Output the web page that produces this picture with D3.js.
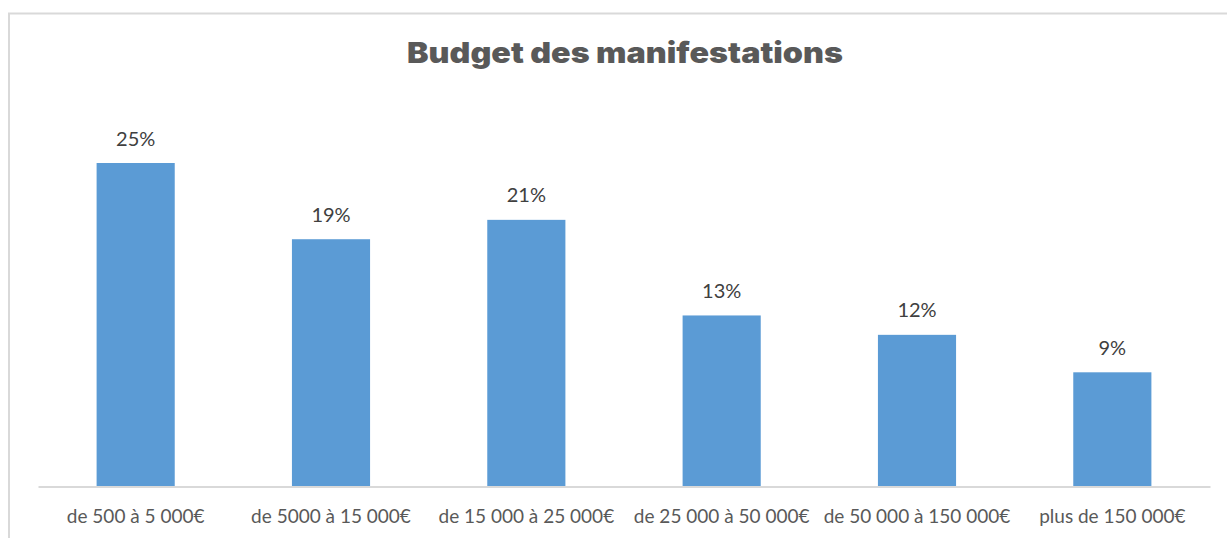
<!DOCTYPE html>
<html>
<head>
<meta charset="utf-8">
<script src="https://cdn.jsdelivr.net/npm/d3@7"></script>
<style>
  html, body { margin: 0; padding: 0; background: #fff; }
  svg { display: block; }
</style>
</head>
<body>
<svg id="chart" width="1227" height="538"></svg>
<script>
// data
var categories = [
  'de 500 à 5 000€',
  'de 5000 à 15 000€',
  'de 15 000 à 25 000€',
  'de 25 000 à 50 000€',
  'de 50 000 à 150 000€',
  'plus de 150 000€'
]
var shares = [25.0, 19.1, 20.6, 13.2, 11.7, 8.8]
var title = 'Budget des manifestations'

var width = 1227,
  height = 538,
  margin = { left: 38, right: 17, top: 163, bottom: 52 }

var svg = d3.select('#chart')

// chart frame
svg.append('rect')
  .attr('x', 9)
  .attr('y', 13.5)
  .attr('width', 1230)
  .attr('height', 600)
  .attr('fill', 'none')
  .attr('stroke', '#d9d9d9')
  .attr('stroke-width', 2)

var x = d3.scaleBand()
  .domain(categories)
  .range([margin.left, width - margin.right])
  .paddingInner(0.6)
  .paddingOuter(0.3)

var y = d3.scaleLinear()
  .domain([0, 25])
  .range([height - margin.bottom, margin.top])

var data = categories.map(function(c, i) {
  return { cat: c, v: shares[i] }
})

// title glyphs stretched a bit, the original face is wider than Inter
svg.append('text')
  .attr('x', 625)
  .attr('y', 63)
  .attr('text-anchor', 'middle')
  .attr('textLength', 436)
  .attr('lengthAdjust', 'spacingAndGlyphs')
  .style('font-family', 'Inter, sans-serif')
  .style('font-weight', 900)
  .style('font-size', '28.5px')
  .style('fill', '#595959')
  .text(title)

svg.append('g')
  .selectAll('rect')
  .data(data)
  .enter()
  .append('rect')
  .attr('x', function(d) { return x(d.cat) })
  .attr('y', function(d) { return y(d.v) })
  .attr('width', x.bandwidth())
  .attr('height', function(d) { return y(0) - y(d.v) })
  .attr('fill', '#5b9bd5')

svg.append('g')
  .selectAll('text')
  .data(data)
  .enter()
  .append('text')
  .attr('x', function(d) { return x(d.cat) + x.bandwidth() / 2 })
  .attr('y', function(d) { return y(d.v) - 17.5 })
  .attr('text-anchor', 'middle')
  .style('font-family', 'Lato, sans-serif')
  .style('font-size', '20px')
  .style('fill', '#404040')
  .text(function(d) { return Math.round(d.v) + '%' })

// x axis
var xAxis = svg.append('g')
  .attr('transform', 'translate(0,' + (height - margin.bottom + 0.5) + ')')
  .call(d3.axisBottom(x).tickSize(0).tickPadding(23).tickSizeOuter(0))
xAxis.select('.domain')
  .attr('stroke', '#d9d9d9')
  .attr('stroke-width', 2)
xAxis.selectAll('text')
  .style('font-family', 'Lato, sans-serif')
  .style('font-size', '19px')
  .style('fill', '#595959')
</script>
</body>
</html>
